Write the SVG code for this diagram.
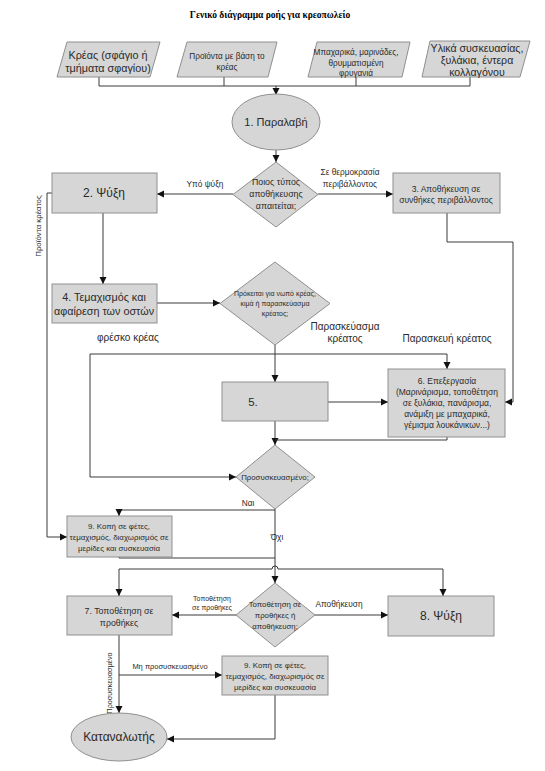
<svg xmlns="http://www.w3.org/2000/svg" width="545" height="771" viewBox="0 0 545 771">
<style>
.sh{fill:#d6d6d6;stroke:#8f8f8f;stroke-width:1}
.ln{fill:none;stroke:#3a3a3a;stroke-width:1}
text{font-family:"Liberation Sans","Noto Sans",sans-serif;fill:#2a2a2a;text-anchor:middle}
.title{font-family:"Liberation Serif",serif;font-weight:bold;font-size:9.5px;fill:#000}
</style>
<defs>
<marker id="ah" markerWidth="8" markerHeight="8" refX="7" refY="4" orient="auto" markerUnits="userSpaceOnUse">
<path d="M0,0.5 L7,4 L0,7.5 Z" fill="#111"/>
</marker>
</defs>
<rect width="545" height="771" fill="#fff"/>
<text class="title" x="270" y="18">Γενικό διάγραμμα ροής για κρεοπωλείο</text>

<g id="connectors">
<path class="ln" d="M99,77 V86 H470 V77 M224,77 V86 M356,77 V86"/>
<path class="ln" d="M276,86 V95" marker-end="url(#ah)"/>
<path class="ln" d="M276,150 V162" marker-end="url(#ah)"/>
<path class="ln" d="M233,194 H157" marker-end="url(#ah)"/>
<path class="ln" d="M318,194 H393" marker-end="url(#ah)"/>
<path class="ln" d="M447,213 V242 H513 V402 H505" marker-end="url(#ah)"/>
<path class="ln" d="M103,213 V284" marker-end="url(#ah)"/>
<path class="ln" d="M157,303 H220" marker-end="url(#ah)"/>
<path class="ln" d="M275,345 V382" marker-end="url(#ah)"/>
<path class="ln" d="M275,354 H447 V369" marker-end="url(#ah)"/>
<path class="ln" d="M275,354 H90 V477 H236" marker-end="url(#ah)"/>
<path class="ln" d="M328,402 H388" marker-end="url(#ah)"/>
<path class="ln" d="M275,421 V445" marker-end="url(#ah)"/>
<path class="ln" d="M447,437 V440 H275"/>
<path class="ln" d="M52,193 H47 V537 H67" marker-end="url(#ah)"/>
<path class="ln" d="M275,510 H119 V516" marker-end="url(#ah)"/>
<path class="ln" d="M275,509 V583" marker-end="url(#ah)"/>
<path class="ln" d="M119,557 V558 H275"/>
<path class="ln" d="M119,596 V569 H272 A3,3 0 0 1 278,569 H443 V596" marker-end="url(#ah)"/>
<path class="ln" d="M119,590 V596" marker-end="url(#ah)"/>
<path class="ln" d="M236,615 H172" marker-end="url(#ah)"/>
<path class="ln" d="M315,615 H388" marker-end="url(#ah)"/>
<path class="ln" d="M119,635 V713" marker-end="url(#ah)"/>
<path class="ln" d="M119,675 H222" marker-end="url(#ah)"/>
<path class="ln" d="M275,695 V739 H167" marker-end="url(#ah)"/>
</g>

<g id="labels" style="font-size:8.3px">
<text x="205" y="187">Υπό ψύξη</text>
<text x="350" y="175">Σε θερμοκρασία</text>
<text x="350" y="187">περιβάλλοντος</text>
<text x="128" y="341" style="font-size:10px">φρέσκο κρέας</text>
<text x="345" y="330" style="font-size:10px">Παρασκεύασμα</text>
<text x="345" y="342" style="font-size:10px">κρέατος</text>
<text x="447" y="342" style="font-size:10px">Παρασκευή κρέατος</text>
<text x="248" y="506">Ναι</text>
<text x="277" y="540">Όχι</text>
<text transform="translate(41,226) rotate(-90)" style="font-size:7.8px">Προϊόντα κρέατος</text>
<text x="212" y="601" style="font-size:7px">Τοποθέτηση</text>
<text x="212" y="610" style="font-size:7px">σε προθήκες</text>
<text x="339" y="607">Αποθήκευση</text>
<text x="170" y="669" style="font-size:7.5px">Μη προσυσκευασμένο</text>
<text transform="translate(112,683) rotate(-90)" style="font-size:7.3px">Προσυσκευασμένο</text>
</g>

<g id="in1"><polygon class="sh" points="67,42 160,42 150,77 57,77"/>
<text x="108" y="59" style="font-size:10.8px">Κρέας (σφάγιο ή</text>
<text x="108" y="72" style="font-size:10.8px">τμήματα σφαγίου)</text></g>
<g id="in2"><polygon class="sh" points="187,42 277,42 268,77 177,77"/>
<text x="227" y="59" style="font-size:8.2px">Προϊόντα με βάση το</text>
<text x="227" y="70" style="font-size:8.2px">κρέας</text></g>
<g id="in3"><polygon class="sh" points="317,42 410,42 402,77 308,77"/>
<text x="356" y="55" style="font-size:8.2px">Μπαχαρικά, μαρινάδες,</text>
<text x="356" y="65.5" style="font-size:8.2px">θρυμματισμένη</text>
<text x="356" y="76" style="font-size:8.2px">φρυγανιά</text></g>
<g id="in4"><polygon class="sh" points="430,41 530,41 520,77 422,77"/>
<text x="477" y="52" style="font-size:10.6px">Υλικά συσκευασίας,</text>
<text x="477" y="64" style="font-size:10.6px">ξυλάκια, έντερα</text>
<text x="477" y="76" style="font-size:10.6px">κολλαγόνου</text></g>

<g id="n1"><ellipse class="sh" cx="276" cy="122" rx="44" ry="28"/>
<text x="276" y="126" style="font-size:11px">1. Παραλαβή</text></g>
<g id="d1"><polygon class="sh" points="276,162 318,194.5 276,227 233,194.5"/>
<text x="276" y="185" style="font-size:8.8px">Ποιος τύπος</text>
<text x="276" y="197" style="font-size:8.8px">αποθήκευσης</text>
<text x="276" y="209" style="font-size:8.8px">απαιτείται;</text></g>
<g id="n2"><rect class="sh" x="52" y="173" width="105" height="40"/>
<text x="104" y="197" style="font-size:12px">2. Ψύξη</text></g>
<g id="n3"><rect class="sh" x="393" y="173" width="107" height="40"/>
<text x="446" y="192" style="font-size:8.5px">3. Αποθήκευση σε</text>
<text x="446" y="203" style="font-size:8.5px">συνθήκες περιβάλλοντος</text></g>
<g id="n4"><rect class="sh" x="52" y="284" width="105" height="39"/>
<text x="104" y="301" style="font-size:10.8px">4. Τεμαχισμός και</text>
<text x="104" y="315" style="font-size:10.8px">αφαίρεση των οστών</text></g>
<g id="d2"><polygon class="sh" points="275,262 330,303.5 275,345 220,303.5"/>
<text x="275" y="296" style="font-size:7px">Πρόκειται για νωπό κρέας,</text>
<text x="275" y="306" style="font-size:7px">κιμά ή παρασκεύασμα</text>
<text x="275" y="316" style="font-size:7px">κρέατος;</text></g>
<g id="n5"><rect class="sh" x="222" y="382" width="106" height="39"/>
<text x="253" y="406" style="font-size:11.5px">5.</text></g>
<g id="n6"><rect class="sh" x="388" y="369" width="117" height="68"/>
<text x="447" y="384" style="font-size:8.5px">6. Επεξεργασία</text>
<text x="447" y="395" style="font-size:8.5px">(Μαρινάρισμα, τοποθέτηση</text>
<text x="447" y="406" style="font-size:8.5px">σε ξυλάκια, πανάρισμα,</text>
<text x="447" y="417" style="font-size:8.5px">ανάμιξη με μπαχαρικά,</text>
<text x="447" y="428" style="font-size:8.5px">γέμισμα λουκάνικων...)</text></g>
<g id="d3"><polygon class="sh" points="275,445 315,477 275,509 236,477"/>
<text x="275" y="480" style="font-size:7.8px">Προσυσκευασμένο;</text></g>
<g id="n9a"><rect class="sh" x="67" y="516" width="105" height="41"/>
<text x="119" y="529" style="font-size:7.9px">9. Κοπή σε φέτες,</text>
<text x="119" y="540" style="font-size:7.9px">τεμαχισμός, διαχωρισμός σε</text>
<text x="119" y="551" style="font-size:7.9px">μερίδες και συσκευασία</text></g>
<g id="n7"><rect class="sh" x="67" y="596" width="105" height="39"/>
<text x="119" y="614" style="font-size:8.8px">7. Τοποθέτηση σε</text>
<text x="119" y="626" style="font-size:8.8px">προθήκες</text></g>
<g id="d4"><polygon class="sh" points="275,583 315,615 275,647 236,615"/>
<text x="275" y="607" style="font-size:7.8px">Τοποθέτηση σε</text>
<text x="275" y="618" style="font-size:7.8px">προθήκες ή</text>
<text x="275" y="629" style="font-size:7.8px">αποθήκευση;</text></g>
<g id="n8"><rect class="sh" x="388" y="596" width="106" height="40"/>
<text x="441" y="620" style="font-size:12px">8. Ψύξη</text></g>
<g id="n9b"><rect class="sh" x="222" y="656" width="106" height="39"/>
<text x="275" y="668" style="font-size:7.9px">9. Κοπή σε φέτες,</text>
<text x="275" y="679" style="font-size:7.9px">τεμαχισμός, διαχωρισμός σε</text>
<text x="275" y="690" style="font-size:7.9px">μερίδες και συσκευασία</text></g>
<g id="consumer"><ellipse class="sh" cx="119" cy="737" rx="48" ry="24"/>
<text x="119" y="741" style="font-size:12px">Καταναλωτής</text></g>
</svg>
